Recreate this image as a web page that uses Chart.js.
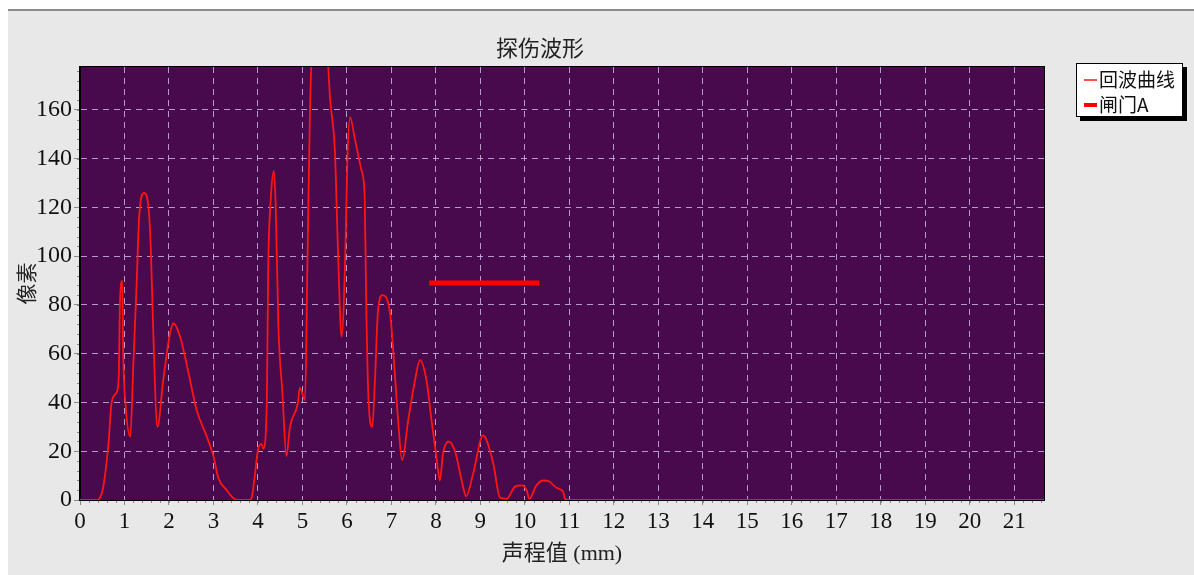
<!DOCTYPE html>
<html><head><meta charset="utf-8">
<script src="https://cdn.jsdelivr.net/npm/chart.js@4"></script>
<style>html,body{margin:0;padding:0;background:#fff;overflow:hidden}canvas{display:block}</style>
</head><body>
<canvas id="c" width="1194" height="575"></canvas>
<script>
const titleText = '探伤波形';
const xTitle = '声程值 (mm)';
const yTitle = '像素';
const seriesNames = ['回波曲线', '闸门A'];

const echoX = [0, 0.4, 0.45, 0.52, 0.64, 0.71, 0.82, 0.87, 0.9, 0.95, 0.97, 1.03, 1.13, 1.2, 1.27, 1.33, 1.44, 1.54, 1.59, 1.65, 1.74, 1.87, 2.02, 2.1, 2.25, 2.43, 2.62, 2.85, 3.0, 3.11, 3.3, 3.45, 3.55, 3.8, 3.86, 3.93, 4.0, 4.08, 4.12, 4.2, 4.23, 4.29, 4.36, 4.4, 4.46, 4.55, 4.64, 4.72, 4.9, 4.94, 5.06, 5.11, 5.17, 5.35, 5.5, 5.62, 5.73, 5.8, 5.88, 5.96, 6.01, 6.07, 6.18, 6.33, 6.4, 6.43, 6.48, 6.57, 6.63, 6.7, 6.8, 6.97, 7.04, 7.15, 7.24, 7.38, 7.53, 7.64, 7.79, 7.9, 8.02, 8.09, 8.16, 8.28, 8.43, 8.58, 8.68, 8.84, 9.06, 9.29, 9.44, 9.59, 9.78, 9.93, 10.04, 10.1, 10.26, 10.41, 10.56, 10.71, 10.86, 10.9, 11.0, 21.67];
const echoY = [0, 0, 1, 5, 23, 40, 44, 50, 82, 90, 61, 38, 26, 56, 87, 116, 126, 120, 104, 67, 30, 49, 68, 72.5, 67, 53, 37, 26, 18, 9, 4, 0.7, 0, 0, 1, 10, 20.5, 23, 21, 40, 94, 124, 135, 120, 71, 44, 18, 30, 40, 46, 41, 94, 160, 215, 205, 165, 143, 102, 67, 98, 139, 157, 148, 135, 124, 85, 44, 30, 49, 78, 84, 76.6, 61.5, 33, 16.4, 33, 49, 57.4, 49, 33, 16.4, 8, 19, 24, 20, 8, 1.5, 11, 26.5, 15, 1, 0.5, 5.5, 6, 4, 0.5, 6, 8, 7.5, 5, 3.4, 0.5, 0, 0];
const gateX = [7.85, 10.32];
const gateY = [89, 89];

const xMin = 0, xMax = 21.67, yMin = 0, yMax = 177.6;
const xStep = 1, yStep = 20, xMinorStep = 0.2, yMinorStep = 4;

const FONT = "'Liberation Serif', 'Noto Sans CJK SC', serif";
const CJK = "'Noto Sans CJK SC', 'Liberation Serif', sans-serif";
const PLOT_BG = '#480a4c';
const GRID = 'rgba(205,180,225,0.85)';
const RED = '#ff1414';

const decor = {
  id: 'decor',
  beforeDraw(chart) {
    const ctx = chart.ctx, W = chart.width, H = chart.height, a = chart.chartArea;
    ctx.save();
    ctx.fillStyle = '#ffffff';
    ctx.fillRect(0, 0, W, H);
    ctx.fillStyle = '#e8e8e8';
    ctx.fillRect(8, 11, W - 8, H - 11);
    ctx.fillStyle = '#8c8c8c';
    ctx.fillRect(8, 9, W - 8, 2);
    ctx.fillStyle = PLOT_BG;
    ctx.fillRect(a.left, a.top, a.right - a.left, a.bottom - a.top);
    ctx.restore();
  },
  afterDatasetsDraw(chart) {
    const ctx = chart.ctx, a = chart.chartArea;
    const xs = chart.scales.x, ys = chart.scales.y;
    ctx.save();
    ctx.strokeStyle = '#000';
    ctx.lineWidth = 1;
    ctx.strokeRect(a.left - 0.5, a.top - 0.5, a.right - a.left + 1, a.bottom - a.top + 1);
    ctx.strokeStyle = '#8a8a8a';
    ctx.beginPath();
    const nx = Math.round((xMax - xMin) / xMinorStep);
    for (let i = 0; i <= nx; i++) {
      const v = xMin + i * xMinorStep;
      const px = Math.round(xs.getPixelForValue(v)) + 0.5;
      ctx.moveTo(px, a.bottom + 1); ctx.lineTo(px, a.bottom + 3);
    }
    const ny = Math.round((yMax - yMin) / yMinorStep);
    for (let i = 0; i <= ny; i++) {
      const v = yMin + i * yMinorStep;
      const py = Math.round(ys.getPixelForValue(v)) + 0.5;
      ctx.moveTo(a.left - 1, py); ctx.lineTo(a.left - 3, py);
    }
    ctx.stroke();
    ctx.fillStyle = '#222';
    ctx.font = '22px ' + CJK;
    ctx.textAlign = 'center';
    ctx.textBaseline = 'middle';
    ctx.fillText(titleText, 540, 48);
    const lx = 1076, ly = 63, lw = 107, lh = 54;
    ctx.fillStyle = '#000';
    ctx.fillRect(lx + 4, ly + 4, lw, lh);
    ctx.fillStyle = '#fff';
    ctx.fillRect(lx, ly, lw, lh);
    ctx.strokeStyle = '#000';
    ctx.strokeRect(lx + 0.5, ly + 0.5, lw - 1, lh - 1);
    ctx.textAlign = 'left';
    ctx.font = '19px ' + CJK;
    chart.data.datasets.forEach((ds, i) => {
      const cy = ly + 17 + i * 25;
      ctx.strokeStyle = ds.borderColor;
      ctx.lineWidth = i === 0 ? 1.5 : 4;
      ctx.beginPath();
      ctx.moveTo(lx + 8, cy); ctx.lineTo(lx + 21, cy);
      ctx.stroke();
      ctx.fillStyle = '#111';
      ctx.fillText(ds.label, lx + 23, cy);
    });
    ctx.restore();
  }
};

new Chart(document.getElementById('c'), {
  type: 'line',
  data: {
    datasets: [
      {
        label: seriesNames[0],
        data: echoX.map((x, i) => ({x: x, y: echoY[i]})),
        borderColor: RED,
        borderWidth: 1.8,
        pointRadius: 0,
        cubicInterpolationMode: 'monotone',
        clip: 0
      },
      {
        label: seriesNames[1],
        data: gateX.map((x, i) => ({x: x, y: gateY[i]})),
        borderColor: '#ff0000',
        borderWidth: 5,
        pointRadius: 0,
        borderCapStyle: 'butt',
        clip: 0
      }
    ]
  },
  options: {
    responsive: false,
    animation: false,
    devicePixelRatio: 1,
    layout: {padding: {top: 67, right: 150, left: 0, bottom: 0}},
    plugins: {
      legend: {display: false},
      title: {display: false},
      tooltip: {enabled: false}
    },
    scales: {
      x: {
        type: 'linear',
        min: xMin, max: xMax,
        afterFit(s) { s.height = 75; },
        ticks: {stepSize: xStep, includeBounds: false, color: '#111', font: {family: FONT, size: 23}, padding: 3, maxRotation: 0, autoSkip: false},
        grid: {color: GRID, lineWidth: 1, tickLength: 5, tickColor: '#8a8a8a'},
        border: {display: true, color: '#000', dash: [6, 5]},
        title: {display: true, text: xTitle, color: '#222', font: {family: FONT, size: 22}, padding: {top: 0, bottom: 8}}
      },
      y: {
        type: 'linear',
        min: yMin, max: yMax,
        afterFit(s) { s.width = 80; },
        ticks: {stepSize: yStep, includeBounds: false, color: '#111', font: {family: FONT, size: 24}, padding: 2},
        grid: {color: GRID, lineWidth: 1, tickLength: 6, tickColor: '#8a8a8a'},
        border: {display: true, color: '#000', dash: [6, 5]},
        title: {display: true, text: yTitle, color: '#222', font: {family: CJK, size: 21}, padding: {top: 13, bottom: 0}}
      }
    }
  },
  plugins: [decor]
});
</script>
</body></html>
